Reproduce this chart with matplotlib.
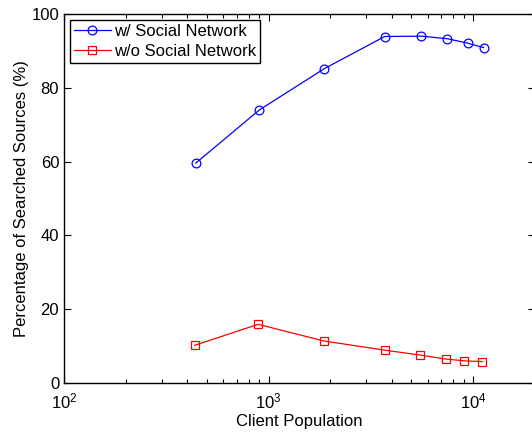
import matplotlib
matplotlib.use("Agg")
import matplotlib.pyplot as plt
from matplotlib.ticker import LogLocator, NullFormatter, FixedLocator

plt.rcParams['font.family'] = ['Liberation Sans', 'DejaVu Sans']

x_with = [441, 902, 1876, 3700, 5590, 7480, 9420, 11270]
y_with = [59.6, 74.0, 85.2, 93.9, 94.0, 93.3, 92.1, 90.9]
x_without = [435, 890, 1860, 3700, 5480, 7340, 9080, 11070]
y_without = [10.2, 15.9, 11.4, 8.9, 7.6, 6.5, 6.0, 5.8]
y_ticks = [0, 20, 40, 60, 80, 100]
label_with = "w/ Social Network"
label_without = "w/o Social Network"

W, H = 532, 433
fig = plt.figure(figsize=(W/100, H/100), dpi=100)
x0, x1 = 64, 534.6
y0, y1 = 383, 14
ax = fig.add_axes([x0/W, 1 - y0/H, (x1-x0)/W, (y0-y1)/H])

ax.plot(x_with, y_with, '-o', color='#0000ff', lw=0.9, ms=6.3, mfc='none', mew=0.9, label=label_with)
ax.plot(x_without, y_without, '-s', color='#ff0000', lw=0.9, ms=5.4, mfc='none', mew=0.9, label=label_without)

ax.set_xscale('log')
ax.set_xlim(100, 2e4)
ax.set_ylim(0, 100)
ax.yaxis.set_major_locator(FixedLocator(y_ticks))
ax.xaxis.set_major_locator(LogLocator(base=10, numticks=10))
ax.xaxis.set_minor_locator(LogLocator(base=10, subs=range(2, 10), numticks=20))
ax.xaxis.set_minor_formatter(NullFormatter())
ax.tick_params(which='both', direction='in', top=True, right=True, labelsize=12, colors='black')
ax.tick_params(which='major', length=5, width=0.8)
ax.tick_params(which='minor', length=3, width=0.8)
ax.tick_params(axis='x', which='major', pad=6)
for s in ax.spines.values():
    s.set_linewidth(1)
ax.set_xlabel("Client Population", fontsize=12, labelpad=2)
ax.set_ylabel("Percentage of Searched Sources (%)", fontsize=12, labelpad=2)
leg = ax.legend(loc='upper left', fontsize=12, frameon=True, fancybox=False,
                edgecolor='black', framealpha=1, borderaxespad=0.35,
                handlelength=2.2, handletextpad=0.2, borderpad=0.25, labelspacing=0.3)
leg.get_frame().set_linewidth(1)

fig.savefig("out.png", dpi=100)
